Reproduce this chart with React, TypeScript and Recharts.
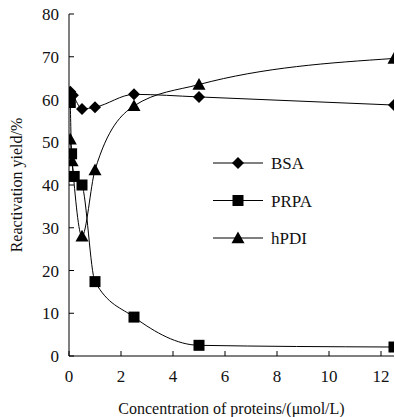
import { LineChart, Line, XAxis, YAxis } from "recharts";

if (typeof document !== "undefined") document.body.style.margin = "0";

const FONT = "'Liberation Serif', 'DejaVu Serif', serif";

// concentration (µmol/L) and reactivation yield (%) per protein
const bsaX = [0.05, 0.15, 0.5, 1, 2.5, 5, 12.5];
const bsaY = [61.8, 61, 57.8, 58.2, 61.2, 60.6, 58.7];
const prpaX = [0.05, 0.1, 0.2, 0.5, 1, 2.5, 5, 12.5];
const prpaY = [59.3, 47.3, 42, 40, 17.4, 9.1, 2.5, 2.1];
const hpdiX = [0.05, 0.12, 0.5, 1, 2.5, 5, 12.5];
const hpdiY = [50.7, 45.6, 28, 43.5, 58.5, 63.5, 69.6];

const xTicks = [0, 2, 4, 6, 8, 10, 12];
const yTicks = [0, 10, 20, 30, 40, 50, 60, 70, 80];

const zip = (xs: number[], ys: number[]) => xs.map((x, i) => ({ x, y: ys[i] }));
const bsa = zip(bsaX, bsaY);
const prpa = zip(prpaX, prpaY);
const hpdi = zip(hpdiX, hpdiY);

type Shape = "diamond" | "square" | "triangle";

function Marker({ cx, cy, shape }: { cx: number; cy: number; shape: Shape }) {
  if (shape === "diamond") {
    const r = 6;
    return <path d={`M${cx},${cy - r}L${cx + r},${cy}L${cx},${cy + r}L${cx - r},${cy}Z`} fill="#000" />;
  }
  if (shape === "square") {
    const h = 5.5;
    return <rect x={cx - h} y={cy - h} width={h * 2} height={h * 2} fill="#000" />;
  }
  const s = 6.5;
  return <path d={`M${cx},${cy - s}L${cx + s},${cy + s * 0.8}L${cx - s},${cy + s * 0.8}Z`} fill="#000" />;
}

const dotFor = (shape: Shape) => (p: any) => (
  <Marker key={`${shape}-${p.index}`} cx={p.cx} cy={p.cy} shape={shape} />
);

const legendItems: { name: string; shape: Shape }[] = [
  { name: "BSA", shape: "diamond" },
  { name: "PRPA", shape: "square" },
  { name: "hPDI", shape: "triangle" },
];

function LegendBox() {
  return (
    <svg width={120} height={100} style={{ position: "absolute", left: 213, top: 152 }}>
      {legendItems.map((it, i) => {
        const y = 11 + i * 37.5;
        return (
          <g key={it.name}>
            <line x1={0} y1={y} x2={50} y2={y} stroke="#000" strokeWidth={1} />
            <Marker cx={25} cy={y} shape={it.shape} />
            <text x={58} y={y + 6} fontFamily={FONT} fontSize={17} fill="#111">
              {it.name}
            </text>
          </g>
        );
      })}
    </svg>
  );
}

const tickStyle = { fontFamily: FONT, fontSize: 17, fill: "#111" };

export default function App() {
  return (
    <div style={{ position: "relative", width: 395, height: 417 }}>
      <LineChart width={395} height={417} margin={{ top: 14, right: 1, bottom: 0, left: 0 }}>
        <XAxis
          type="number"
          dataKey="x"
          domain={[0, 12.5]}
          ticks={xTicks}
          allowDataOverflow
          height={61}
          stroke="#000"
          tickSize={-5}
          tickMargin={19}
          tick={tickStyle}
          label={{
            value: "Concentration of proteins/(μmol/L)",
            position: "insideBottom",
            offset: 3,
            style: { fontFamily: FONT, fontSize: 16, fill: "#111" },
          }}
        />
        <YAxis
          type="number"
          domain={[0, 80]}
          ticks={yTicks}
          width={69}
          stroke="#000"
          tickSize={-5}
          tickMargin={15}
          tick={tickStyle}
          label={{
            value: "Reactivation yield/%",
            angle: -90,
            position: "insideLeft",
            offset: 16,
            style: { fontFamily: FONT, fontSize: 16, fill: "#111", textAnchor: "middle" },
          }}
        />
        <Line data={bsa} dataKey="y" name="BSA" type="monotone" stroke="#000" strokeWidth={1}
          dot={dotFor("diamond")} isAnimationActive={false} />
        <Line data={prpa} dataKey="y" name="PRPA" type="monotone" stroke="#000" strokeWidth={1}
          dot={dotFor("square")} isAnimationActive={false} />
        <Line data={hpdi} dataKey="y" name="hPDI" type="monotone" stroke="#000" strokeWidth={1}
          dot={dotFor("triangle")} isAnimationActive={false} />
      </LineChart>
      <LegendBox />
    </div>
  );
}
